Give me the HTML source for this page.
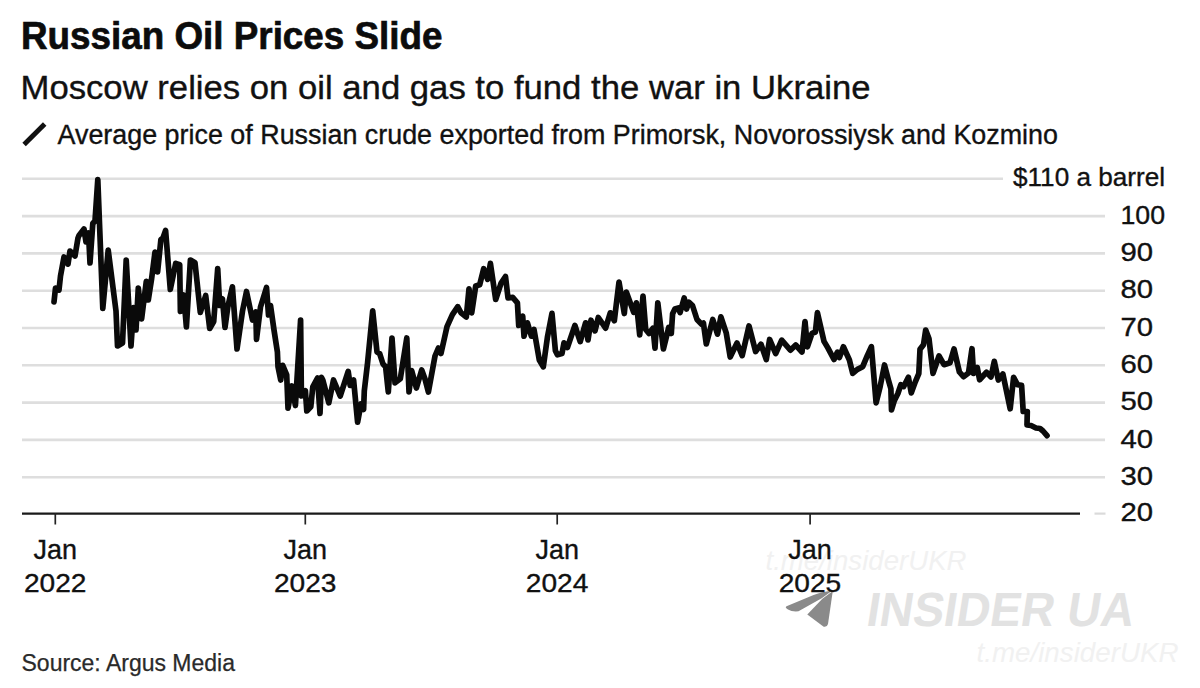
<!DOCTYPE html>
<html><head><meta charset="utf-8">
<style>
html,body{margin:0;padding:0;background:#fff;width:1200px;height:688px;overflow:hidden}
svg{display:block}
text{font-family:"Liberation Sans",sans-serif;fill:#111;stroke:#111;stroke-width:0.35px}
.ax{font-size:25px}
</style></head><body>
<svg width="1200" height="688" viewBox="0 0 1200 688">
<rect width="1200" height="688" fill="#fff"/>
<text x="21" y="49.3" style="font-size:38.5px;font-weight:bold;stroke-width:0.7px;fill:#0c0c0c;stroke:#0c0c0c" textLength="421.5" lengthAdjust="spacingAndGlyphs">Russian Oil Prices Slide</text>
<text x="20.5" y="98.8" style="font-size:33px" textLength="850" lengthAdjust="spacingAndGlyphs">Moscow relies on oil and gas to fund the war in Ukraine</text>
<line x1="24.1" y1="144.5" x2="44.7" y2="124" stroke="#111" stroke-width="4.9"/>
<text x="57.5" y="144.4" style="font-size:26.8px" textLength="1000.5" lengthAdjust="spacingAndGlyphs">Average price of Russian crude exported from Primorsk, Novorossiysk and Kozmino</text>
<line x1="22" y1="477.20" x2="1105" y2="477.20" stroke="#dedede" stroke-width="2.6"/>
<line x1="22" y1="439.90" x2="1105" y2="439.90" stroke="#dedede" stroke-width="2.6"/>
<line x1="22" y1="402.60" x2="1105" y2="402.60" stroke="#dedede" stroke-width="2.6"/>
<line x1="22" y1="365.30" x2="1105" y2="365.30" stroke="#dedede" stroke-width="2.6"/>
<line x1="22" y1="328.00" x2="1105" y2="328.00" stroke="#dedede" stroke-width="2.6"/>
<line x1="22" y1="290.70" x2="1105" y2="290.70" stroke="#dedede" stroke-width="2.6"/>
<line x1="22" y1="253.40" x2="1105" y2="253.40" stroke="#dedede" stroke-width="2.6"/>
<line x1="22" y1="216.10" x2="1105" y2="216.10" stroke="#dedede" stroke-width="2.6"/>
<line x1="22" y1="178.80" x2="1003" y2="178.80" stroke="#dedede" stroke-width="2.6"/>

<text x="1013" y="185.8" class="ax" textLength="152" lengthAdjust="spacingAndGlyphs">$110 a barrel</text>
<text x="1120.5" y="521.2" class="ax" textLength="32.6" lengthAdjust="spacingAndGlyphs">20</text>
<text x="1120.5" y="484.8" class="ax" textLength="32.6" lengthAdjust="spacingAndGlyphs">30</text>
<text x="1120.5" y="447.5" class="ax" textLength="32.6" lengthAdjust="spacingAndGlyphs">40</text>
<text x="1120.5" y="410.2" class="ax" textLength="32.6" lengthAdjust="spacingAndGlyphs">50</text>
<text x="1120.5" y="372.9" class="ax" textLength="32.6" lengthAdjust="spacingAndGlyphs">60</text>
<text x="1120.5" y="335.6" class="ax" textLength="32.6" lengthAdjust="spacingAndGlyphs">70</text>
<text x="1120.5" y="298.3" class="ax" textLength="32.6" lengthAdjust="spacingAndGlyphs">80</text>
<text x="1120.5" y="261.0" class="ax" textLength="32.6" lengthAdjust="spacingAndGlyphs">90</text>
<text x="1120.5" y="223.7" class="ax" textLength="44.6" lengthAdjust="spacingAndGlyphs">100</text>

<line x1="22" y1="513.6" x2="1080" y2="513.6" stroke="#1a1a1a" stroke-width="2.3"/>
<line x1="1094.5" y1="513.6" x2="1105.5" y2="513.6" stroke="#dadada" stroke-width="2.2"/>
<line x1="55.3" y1="513" x2="55.3" y2="524.5" stroke="#222" stroke-width="1.7"/>
<line x1="305.3" y1="513" x2="305.3" y2="524.5" stroke="#222" stroke-width="1.7"/>
<line x1="557.2" y1="513" x2="557.2" y2="524.5" stroke="#222" stroke-width="1.7"/>
<line x1="810.1" y1="513" x2="810.1" y2="524.5" stroke="#222" stroke-width="1.7"/>

<g id="wm">
<text x="765.5" y="569.5" style="font-size:27.5px;font-style:italic;fill:#f1f1f1;stroke:none" textLength="201" lengthAdjust="spacingAndGlyphs">t.me/insiderUKR</text>
<text x="976.5" y="662" style="font-size:27.5px;font-style:italic;fill:#f1f1f1;stroke:none" textLength="202" lengthAdjust="spacingAndGlyphs">t.me/insiderUKR</text>
<g transform="translate(0,626) skewX(-9) translate(0,-626)"><text x="865" y="626" style="font-size:48px;font-weight:bold;fill:#e2e2e2;stroke:none" textLength="267" lengthAdjust="spacingAndGlyphs">INSIDER UA</text></g>
<path d="M786.5,606.3 L813,595.2 Q821,592 832,590.8 L821.7,598.3 L798.5,611.3 Q792,612 788,609.5 Q784.5,607.5 786.5,606.3 Z" fill="#8a8a8a"/>
<path d="M807.3,614.4 L822.4,598.7 L832.8,591 L828,624 Q827,627.5 823.7,626.7 Z" fill="#8a8a8a"/>
</g>
<text x="33.55" y="559" class="ax" style="font-size:27.5px" textLength="43.5" lengthAdjust="spacingAndGlyphs">Jan</text>
<text x="23.9" y="592.2" class="ax" textLength="62.5" lengthAdjust="spacingAndGlyphs">2022</text>
<text x="283.55" y="559" class="ax" style="font-size:27.5px" textLength="43.5" lengthAdjust="spacingAndGlyphs">Jan</text>
<text x="273.90000000000003" y="592.2" class="ax" textLength="62.5" lengthAdjust="spacingAndGlyphs">2023</text>
<text x="535.45" y="559" class="ax" style="font-size:27.5px" textLength="43.5" lengthAdjust="spacingAndGlyphs">Jan</text>
<text x="525.8000000000001" y="592.2" class="ax" textLength="62.5" lengthAdjust="spacingAndGlyphs">2024</text>
<text x="788.35" y="559" class="ax" style="font-size:27.5px" textLength="43.5" lengthAdjust="spacingAndGlyphs">Jan</text>
<text x="778.7" y="592.2" class="ax" textLength="62.5" lengthAdjust="spacingAndGlyphs">2025</text>

<path d="M54,302 L55.5,288 L59,290 L60.5,276 L64,257 L68,264 L70,251 L75,256 L78,238 L79,235.5 L84,229 L86,242 L88.5,233 L90,263 L92.8,223.5 L95,221 L97.8,179.5 L102.8,308.5 L108.2,250 L116,311 L117.5,346 L122.5,343 L126.2,260 L131,346 L133.6,307.5 L136,330 L138.3,288 L141.6,319 L146.3,281.4 L148.3,300 L151.6,278.8 L155,252 L157.6,272 L160.9,239.5 L163,238 L165.6,230.5 L170.3,289.5 L175.7,263.4 L179.7,264.7 L180.4,311.5 L183.7,295 L186.4,327 L190.4,260 L195,262.7 L200.3,312.5 L205.7,295.5 L209.7,328.5 L213.7,321.5 L217.7,268.7 L219.7,305.5 L222.4,298.8 L225,327.5 L227.8,307 L232.4,286.8 L237,349 L242.5,311 L246.5,291.5 L252.5,320 L255.8,312 L256.5,339.4 L260.5,307 L266.5,287.5 L268.5,315 L270.5,305.5 L274,330 L277.4,352 L278,366.7 L280.7,380 L282.7,365.4 L286.7,374.8 L288,408.2 L292,386 L295.4,405.5 L300.6,320 L301.4,396 L305.4,390.8 L306.8,411 L310.8,406.8 L312.8,386.8 L317.5,378 L320,413.5 L321.5,377.4 L322.8,380 L328.8,402.8 L333.5,380 L340.2,396 L348.2,371.4 L350.2,385.5 L353.6,380 L357.6,422.2 L361,404 L363.6,409.5 L364.3,390.8 L367.6,362.7 L372.7,310.8 L377,352 L379.6,353.4 L383,364 L385.6,366.7 L388.3,392 L392,338 L395,382.8 L400.3,378.8 L406.8,338 L409,392 L411.7,370.7 L416.4,388 L421.7,370 L425,379 L428.4,392 L435,356 L438.4,348 L441,353.5 L447,326.7 L452.4,314.7 L457.8,306.7 L461,312.8 L466.3,317 L469,288.8 L471.7,312.8 L475.7,286 L479.7,284.8 L483.7,268.7 L487.7,279.4 L490.4,263.4 L495.7,299.5 L501,283.4 L505.5,276.5 L508,298 L512.7,297.4 L517.4,302.8 L518.7,325.5 L522.7,316.1 L524,336.2 L527.4,322.8 L531.4,336.2 L534,329.5 L539.3,360 L543.3,366.8 L547.4,337.4 L552,313.4 L555.4,350.8 L557.4,354.8 L562,353.5 L564,342.8 L567.4,347.5 L574.9,325.5 L580.2,341.6 L585.6,322.8 L588,340 L591,320.2 L595,330.9 L598.3,317.5 L605.6,328.2 L610.3,312.8 L614.3,320.8 L619,282 L624.3,313.5 L626.3,292 L633.7,312.2 L636.4,302.8 L639.7,334.9 L643,296 L645.7,329.5 L649,333.5 L653,328.2 L655,348.2 L657.8,302.8 L663.4,349 L668.7,327.5 L671.3,333.5 L672.6,313.7 L674.9,309 L678.4,307.9 L680.1,312.6 L684.2,298 L686.5,309 L688.8,302.1 L692.5,305.5 L697,319.5 L701.6,324.2 L703.4,323 L706.3,344 L712.8,319.5 L717.5,334.2 L720.9,316.8 L726.2,332.8 L730.2,357 L737,343 L742.2,355.6 L749,326 L755.6,351.5 L761,344.2 L766.3,359.6 L769.6,339.5 L775.7,353.6 L781.7,340.2 L790.4,350.2 L795.7,345 L802,352 L805,321.5 L807.4,346.8 L812,333.4 L815.4,332 L817.4,312.7 L824,341.4 L828,348.1 L834,359.5 L837.4,352.1 L839.4,357.5 L843.4,346.8 L849.4,360 L852.7,373.4 L857.4,369.4 L862.7,366.7 L867.4,355.4 L871.4,346.7 L876.1,402.8 L880.1,386.8 L884.5,365 L888.6,380.7 L890.9,388.8 L891.5,409.8 L894.4,400.5 L897.9,393.5 L900.8,384.8 L903.7,386.5 L908.4,377.2 L911.3,392.9 L915.3,381.9 L918.8,373.7 L920,349.3 L923.5,344.7 L925.7,330 L929,338.8 L933,373.4 L939,356 L944,364.7 L950,362.7 L954,349 L959.4,372 L963.5,376.7 L968.5,373 L972,348.7 L973.5,373.4 L977.2,367.4 L979.6,379.8 L986.5,372.3 L991,377 L994.3,361.4 L998.3,380 L1002.9,374 L1010.2,408.8 L1013.6,377.4 L1017.6,384.8 L1021.6,385.4 L1023.2,411.5 L1027.3,411.5 L1027,425 L1031,425.5 L1036,428 L1040,428.5 L1043,431 L1047,435.7" fill="none" stroke="#0a0a0a" stroke-width="5.7" stroke-linejoin="round" stroke-linecap="round"/>
<text x="21.5" y="671.2" style="font-size:23px;fill:#2a2a2a;stroke:#2a2a2a;stroke-width:0.25px">Source: Argus Media</text>
</svg>
</body></html>
